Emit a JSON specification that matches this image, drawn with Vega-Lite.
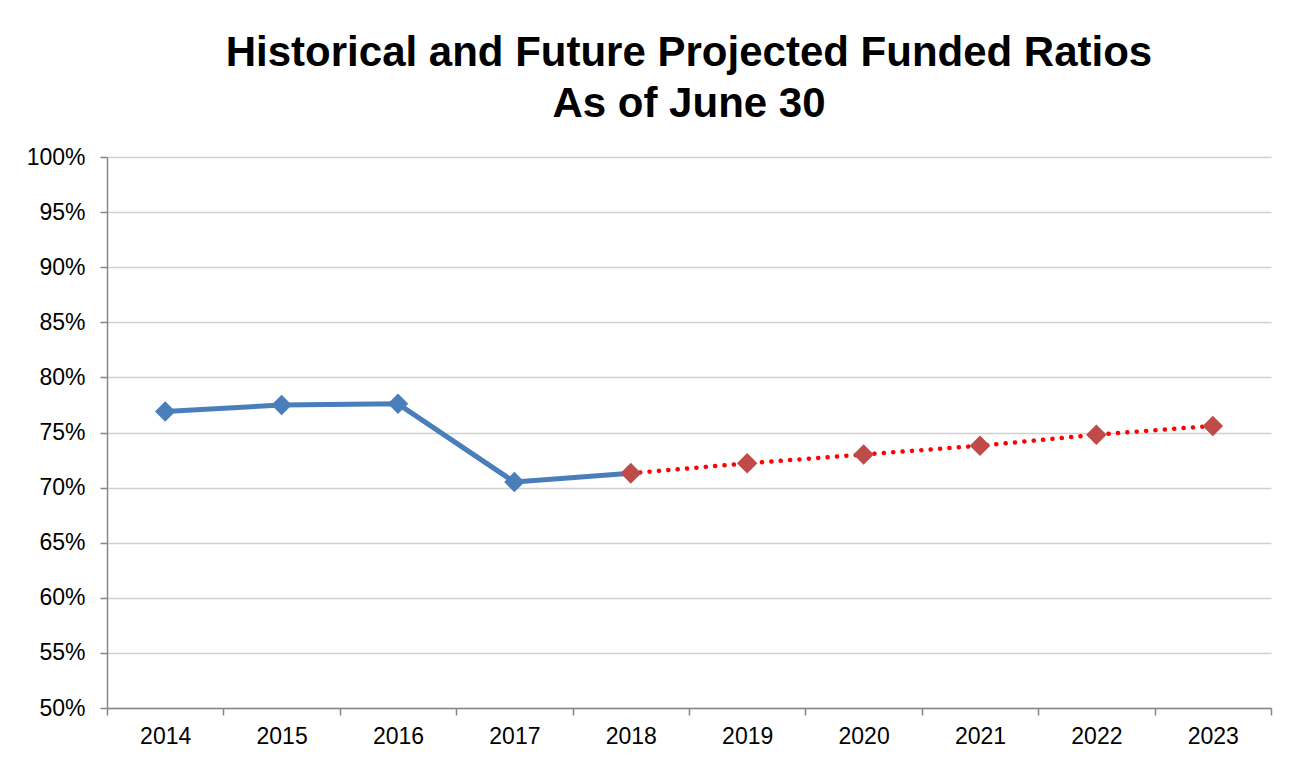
{
  "$schema": "https://vega.github.io/schema/vega-lite/v6.json",
  "width": 1164,
  "height": 551,
  "autosize": {"type": "none"},
  "padding": {"left": 107, "top": 157, "right": 28, "bottom": 55},
  "background": "white",
  "config": {
    "font": "Liberation Sans",
    "view": {"stroke": null}
  },
  "title": {
    "text": ["Historical and Future Projected Funded Ratios", "As of June 30"],
    "fontSize": 42,
    "font": "Liberation Sans",
    "fontWeight": "bold",
    "color": "black",
    "lineHeight": 51,
    "offset": 20,
    "anchor": "middle"
  },
  "data": {
    "values": [
      {"year": "2014", "ratio": 0.769, "series": "Historical"},
      {"year": "2015", "ratio": 0.775, "series": "Historical"},
      {"year": "2016", "ratio": 0.776, "series": "Historical"},
      {"year": "2017", "ratio": 0.705, "series": "Historical"},
      {"year": "2018", "ratio": 0.713, "series": "Historical"},
      {"year": "2018", "ratio": 0.713, "series": "Projected"},
      {"year": "2019", "ratio": 0.722, "series": "Projected"},
      {"year": "2020", "ratio": 0.730, "series": "Projected"},
      {"year": "2021", "ratio": 0.738, "series": "Projected"},
      {"year": "2022", "ratio": 0.748, "series": "Projected"},
      {"year": "2023", "ratio": 0.756, "series": "Projected"}
    ]
  },
  "encoding": {
    "x": {
      "field": "year",
      "type": "ordinal",
      "scale": {"paddingInner": 0, "paddingOuter": 0},
      "axis": {
        "title": null,
        "labelAngle": 0,
        "tickBand": "extent",
        "labelFontSize": 23,
        "labelColor": "black",
        "labelPadding": 10,
        "tickSize": 7,
        "tickColor": "#868686",
        "domainColor": "#868686",
        "domainWidth": 1.5,
        "tickWidth": 1.5,
        "grid": false
      }
    },
    "y": {
      "field": "ratio",
      "type": "quantitative",
      "scale": {"domain": [0.5, 1], "nice": false, "zero": false},
      "axis": {
        "title": null,
        "values": [0.5, 0.55, 0.6, 0.65, 0.7, 0.75, 0.8, 0.85, 0.9, 0.95, 1.0],
        "format": ".0%",
        "labelFontSize": 23,
        "labelColor": "black",
        "labelPadding": 15,
        "tickSize": 7,
        "tickColor": "#868686",
        "tickWidth": 1.5,
        "domainColor": "#868686",
        "domainWidth": 1.5,
        "grid": true,
        "gridColor": "#d0d0d0",
        "gridWidth": 1.5
      }
    }
  },
  "layer": [
    {
      "transform": [{"filter": "datum.series === 'Historical'"}],
      "mark": {"type": "line", "color": "#4a7ebb", "strokeWidth": 5, "strokeJoin": "round"}
    },
    {
      "transform": [{"filter": "datum.series === 'Projected'"}],
      "mark": {"type": "line", "color": "#ff0000", "strokeWidth": 4.5, "strokeDash": [0.1, 9.3], "strokeCap": "round"}
    },
    {
      "transform": [{"filter": "datum.series === 'Historical'"}],
      "mark": {"type": "point", "shape": "diamond", "filled": true, "color": "#4a7ebb", "size": 420, "opacity": 1}
    },
    {
      "transform": [{"filter": "datum.series === 'Projected'"}],
      "mark": {"type": "point", "shape": "diamond", "filled": true, "color": "#be4b48", "size": 420, "opacity": 1}
    }
  ]
}
